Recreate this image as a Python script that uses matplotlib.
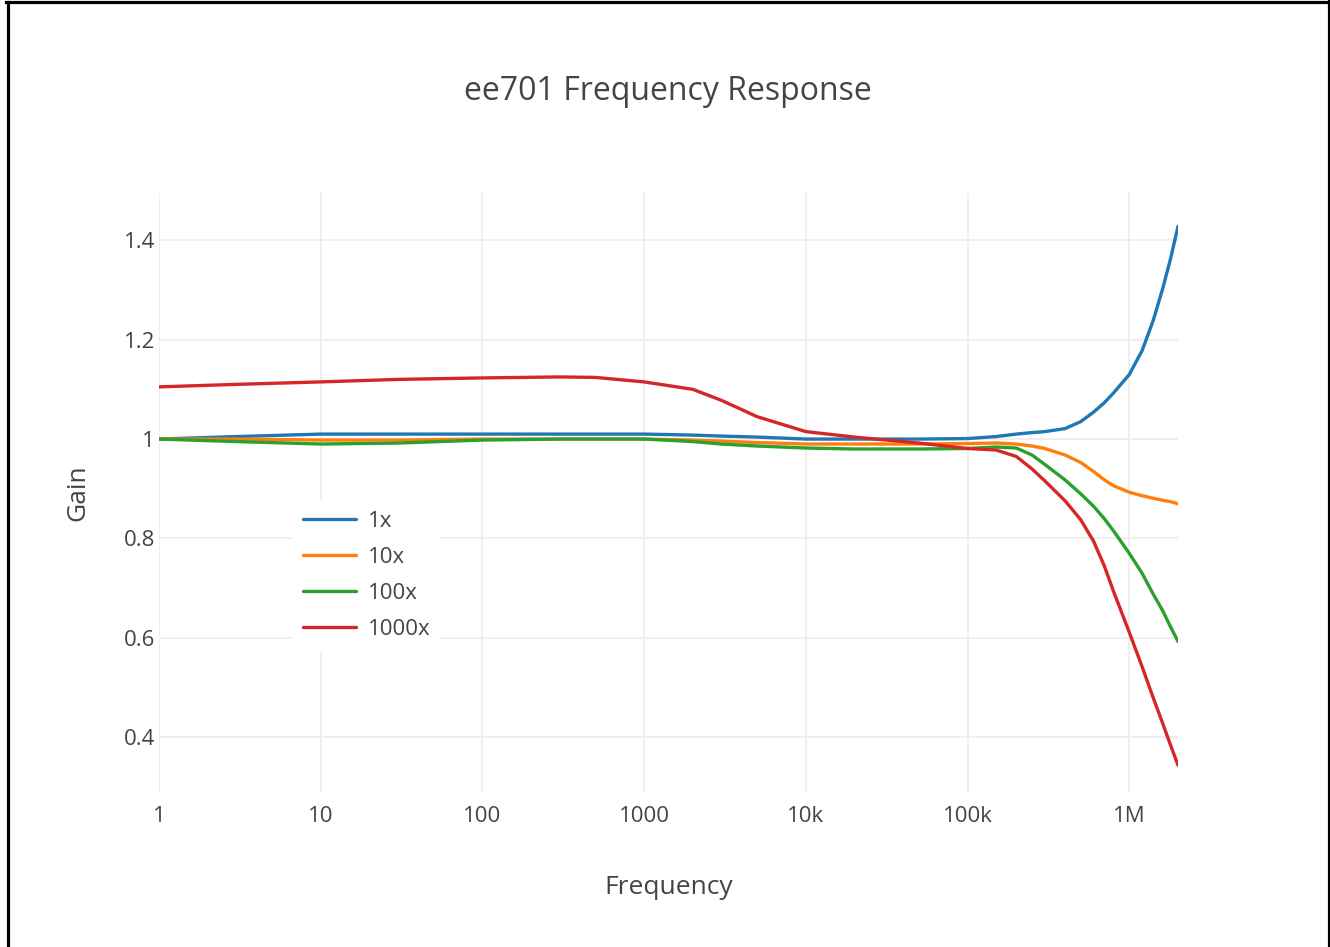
import numpy as np
import matplotlib
matplotlib.use("Agg")
from matplotlib import pyplot as plt
from matplotlib.lines import Line2D

# frequency points (Hz) and gain
freq = [1, 3, 10, 30, 100, 300, 500, 1000, 2000, 3000, 5000, 10000, 20000, 50000,
        100000, 150000, 200000, 250000, 300000, 400000, 500000, 600000, 700000,
        800000, 1000000, 1200000, 1400000, 1600000, 1800000, 2000000]

gain_1x = [1.0, 1.005, 1.01, 1.01, 1.01, 1.01, 1.01, 1.01, 1.008, 1.006, 1.004, 1.0, 1.0, 1.0,
           1.001, 1.005, 1.01, 1.013, 1.015, 1.021, 1.035, 1.054, 1.073,
           1.093, 1.13, 1.178, 1.237, 1.3, 1.363, 1.428]
gain_10x = [1.0, 1.0, 0.998, 0.998, 1.0, 1.0, 1.0, 1.0, 0.998, 0.996, 0.993, 0.99, 0.99, 0.99,
            0.991, 0.992, 0.99, 0.986, 0.981, 0.968, 0.953, 0.935, 0.918,
            0.906, 0.893, 0.886, 0.881, 0.877, 0.874, 0.87]
gain_100x = [1.0, 0.995, 0.99, 0.992, 0.998, 1.0, 1.0, 1.0, 0.995, 0.99, 0.986, 0.982, 0.98, 0.98,
             0.981, 0.984, 0.982, 0.968, 0.949, 0.918, 0.89, 0.865, 0.84,
             0.815, 0.77, 0.73, 0.689, 0.656, 0.622, 0.593]
gain_1000x = [1.105, 1.11, 1.115, 1.12, 1.123, 1.125, 1.124, 1.115, 1.1, 1.078, 1.045, 1.015, 1.004, 0.992,
              0.981, 0.978, 0.965, 0.94, 0.916, 0.876, 0.838, 0.795, 0.745,
              0.693, 0.611, 0.542, 0.481, 0.43, 0.384, 0.344]

labels = ["1x", "10x", "100x", "1000x"]
colors = ["#1f77b4", "#ff7f0e", "#2ca02c", "#d62728"]

xticks = [1, 10, 100, 1000, 10000, 100000, 1000000]
xticklabels = ["1", "10", "100", "1000", "10k", "100k", "1M"]
yticks = [0.4, 0.6, 0.8, 1.0, 1.2, 1.4]
yticklabels = ["0.4", "0.6", "0.8", "1", "1.2", "1.4"]

plt.rcParams["font.family"] = ["Open Sans", "DejaVu Sans"]
txt = "#444444"

fig = plt.figure(figsize=(13.3, 9.47), dpi=100)
ax = fig.add_axes([159 / 1330, 1 - 793 / 947, (1178 - 159) / 1330, (793 - 193) / 947])

for g, lab, c in zip([gain_1x, gain_10x, gain_100x, gain_1000x], labels, colors):
    ax.plot(freq, g, color=c, lw=2.4, label=lab, solid_capstyle="round",
            solid_joinstyle="round")

ax.set_xscale("log")
ax.set_xlim(1, 2e6)
ax.set_ylim(0.288, 1.495)
ax.set_xticks(xticks)
ax.set_xticklabels(xticklabels)
ax.xaxis.set_minor_locator(matplotlib.ticker.NullLocator())
ax.set_yticks(yticks)
ax.set_yticklabels(yticklabels)
ax.tick_params(length=0, labelsize=16, labelcolor=txt)
ax.tick_params(axis="x", pad=9)
ax.tick_params(axis="y", pad=3)
ax.grid(True, color="#eeeeee", lw=1.3)
ax.set_axisbelow(True)
for s in ax.spines.values():
    s.set_visible(False)

ax.set_xlabel("Frequency", fontsize=19, color=txt, labelpad=35)
ax.set_ylabel("Gain", fontsize=19, color=txt, labelpad=24)
fig.text(668 / 1330, 1 - 91 / 947, "ee701 Frequency Response", fontsize=23,
         color=txt, ha="center", va="center")

leg = ax.legend(loc="upper left", bbox_to_anchor=(293 / 1330, 1 - 501 / 947),
                bbox_transform=fig.transFigure, frameon=True, fontsize=16,
                handlelength=2.4, handletextpad=0.5, labelspacing=0.67,
                borderpad=0.45, borderaxespad=0)
leg.get_frame().set_facecolor("white")
leg.get_frame().set_edgecolor("white")
leg.get_frame().set_alpha(1)
for t in leg.get_texts():
    t.set_color(txt)

# black border around the image
fig.add_artist(Line2D([7.5 / 1330, 7.5 / 1330], [0, 1 - 2 / 947], color="black", lw=2.3))
fig.add_artist(Line2D([6 / 1330, 1330 / 1330], [1 - 2.5 / 947, 1 - 2.5 / 947], color="black", lw=2.3))
fig.add_artist(Line2D([1328.5 / 1330, 1328.5 / 1330], [0, 1], color="black", lw=2.3))

fig.savefig("out.png", dpi=100, facecolor="white")
